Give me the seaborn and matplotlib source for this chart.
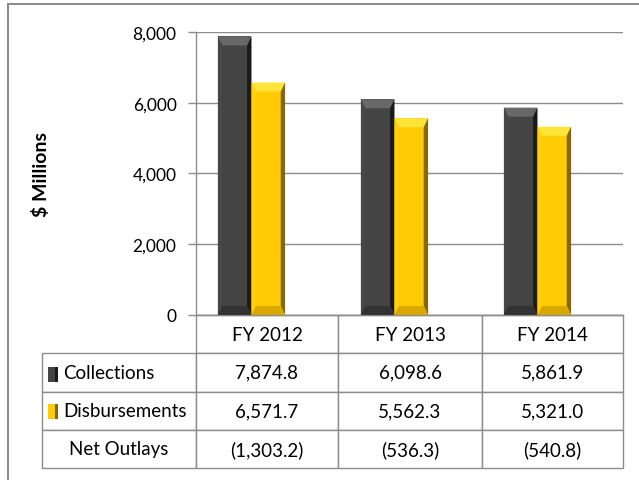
import matplotlib
matplotlib.use("Agg")
import matplotlib.pyplot as plt
from matplotlib.patches import Polygon, Rectangle
from matplotlib.lines import Line2D
import matplotlib.ticker as mticker
import seaborn as sns
import pandas as pd

# ---- data ----
years = ["FY 2012", "FY 2013", "FY 2014"]
collections = [7874.8, 6098.6, 5861.9]
disbursements = [6571.7, 5562.3, 5321.0]
net_outlays = ["(1,303.2)", "(536.3)", "(540.8)"]
series_names = ["Collections", "Disbursements"]
y_ticks = [0, 2000, 4000, 6000, 8000]

sns.set_theme(style="white")
plt.rcParams["font.family"] = ["Lato", "DejaVu Sans"]

W, H = 639, 481
fig = plt.figure(figsize=(W / 100, H / 100), dpi=100)
fig.patch.set_facecolor("white")

L, R, T, B = 196, 623, 33, 316
ax = fig.add_axes([L / W, 1 - B / H, (R - L) / W, (B - T) / H])

df = pd.DataFrame({
    "year": years * 2,
    "value": collections + disbursements,
    "series": [series_names[0]] * 3 + [series_names[1]] * 3,
})
body = {"Collections": "#444444", "Disbursements": "#FFCB05"}
sns.barplot(data=df, x="year", y="value", hue="series", palette=body,
            saturation=1, width=0.47, gap=0, legend=False, ax=ax, zorder=3,
            edgecolor="none", linewidth=0)

ax.set_ylim(0, 8000)
ax.set_xlim(-0.388, 2.598)
ax.set_yticks(y_ticks)
ax.yaxis.set_major_formatter(mticker.FuncFormatter(lambda v, p: f"{int(v):,}"))
ax.set_xticks([])
ax.set_xlabel("")
ax.grid(axis="y", color="#8c8c8c", linewidth=1.0, zorder=0)
ax.set_axisbelow(True)
for s in ["top", "right"]:
    ax.spines[s].set_visible(False)
for s in ["left", "bottom"]:
    ax.spines[s].set_color("#8c8c8c")
    ax.spines[s].set_linewidth(1.0)
ax.tick_params(axis="y", which="major", direction="out", length=6, width=1,
               color="#8c8c8c", labelsize=12.5, pad=8, left=True,
               labelcolor="#000000")
ax.set_ylabel("$ Millions", fontsize=14, fontweight="bold", color="#000000")
ax.yaxis.set_label_coords(-0.342, 0.5)

# ---- bevel effect on bars ----
shades = {
    "#444444": dict(top="#686868", right="#1a1a1a", left="#474747", bottom="#333333"),
    "#ffcb05": dict(top="#FFE53A", right="#8a6800", left="#FFCF10", bottom="#d9a800"),
}
px_y = 8000 / (B - T)
for p in list(ax.patches):
    x, w, h = p.get_x(), p.get_width(), p.get_height()
    col = matplotlib.colors.to_hex(p.get_facecolor())
    sh = shades.get(col.lower())
    if sh is None:
        continue
    bx = w * 0.13
    by = 9 * px_y
    polys = [
        ([(x, h), (x + w, h), (x + w - bx, h - by), (x + bx, h - by)], sh["top"]),
        ([(x + w, h), (x + w, 0), (x + w - bx, by), (x + w - bx, h - by)], sh["right"]),
        ([(x, h), (x + bx, h - by), (x + bx, by), (x, 0)], sh["left"]),
        ([(x, 0), (x + w, 0), (x + w - bx, by), (x + bx, by)], sh["bottom"]),
    ]
    for pts, c in polys:
        ax.add_patch(Polygon(pts, closed=True, facecolor=c, edgecolor="none", zorder=4))

# ---- data table ----
tb_left, tb_bottom = 42, 469
cell_text = [
    [series_names[0]] + [f"{v:,.1f}" for v in collections],
    [series_names[1]] + [f"{v:,.1f}" for v in disbursements],
    ["Net Outlays"] + net_outlays,
]
col_labels = [""] + years
bbox = [(tb_left - L) / (R - L), -(tb_bottom - B) / (B - T),
        (R - tb_left) / (R - L), (tb_bottom - B) / (B - T)]
tbl = ax.table(cellText=cell_text, colLabels=col_labels, cellLoc="center",
               colLoc="center", colWidths=[154, 142, 144, 141], bbox=bbox)
tbl.auto_set_font_size(False)
tbl.set_fontsize(13.5)
for (r, c), cell in tbl.get_celld().items():
    cell.set_edgecolor("#8c8c8c")
    cell.set_linewidth(1.0)
    cell.set_facecolor("white")
    cell.get_text().set_color("#000000")
    if r == 0 and c == 0:
        cell.set_edgecolor("none")
        cell.set_facecolor("none")
    if c == 0 and r in (1, 2):
        cell._loc = "left"
        cell.PAD = 0.14
        cell.get_text().set_ha("left")

# legend swatches in table
sw_x = (48 - L) / (R - L)
sw_w = 10 / (R - L)
sw_h = 15 / (B - T)
for i, name in enumerate(series_names):
    c = body[name]
    sh = shades[matplotlib.colors.to_hex(c).lower()]
    yc = [375, 412][i]
    y0 = -(yc + 7.5 - B) / (B - T)
    ax.add_patch(Rectangle((sw_x, y0), sw_w, sw_h, transform=ax.transAxes,
                           facecolor=c, edgecolor="none", clip_on=False, zorder=5))
    ax.add_patch(Rectangle((sw_x + sw_w * 0.7, y0), sw_w * 0.3, sw_h,
                           transform=ax.transAxes, facecolor=sh["right"],
                           edgecolor="none", clip_on=False, zorder=5))

# ---- outer chart border ----
fig.add_artist(Line2D([8 / W, 1.0], [1 - 5 / H, 1 - 5 / H], color="#8c8c8c", lw=1.5))
fig.add_artist(Line2D([8 / W, 8 / W], [1 - 5 / H, 0.0], color="#8c8c8c", lw=1.5))

fig.savefig("out.png", dpi=100, facecolor="white")
